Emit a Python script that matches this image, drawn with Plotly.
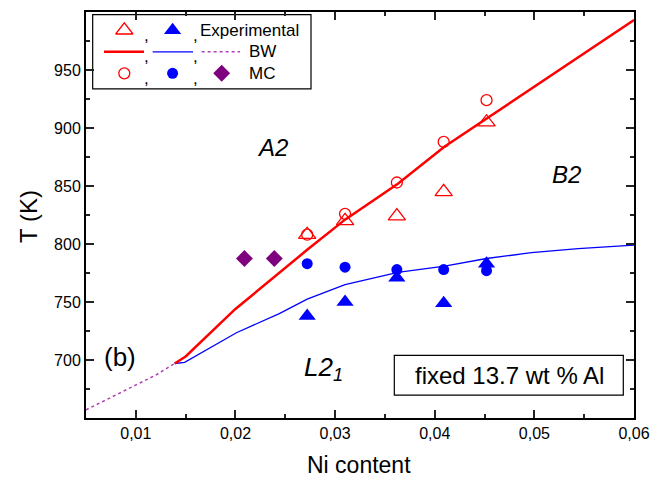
import plotly.graph_objects as go

# ---------------- data ----------------
ni_exp = [0.0272, 0.0310, 0.0362, 0.0409, 0.0452]
t_exp_a2b2 = [808, 820, 824, 845, 905]
t_exp_b2l21 = [738, 750, 771, 749, 783]

ni_mc = [0.0272, 0.0310, 0.0362, 0.0409, 0.0452]
t_mc_a2b2 = [808, 826, 853, 888, 924]
t_mc_b2l21 = [783, 780, 778, 778, 777]

ni_mc_a2l21 = [0.0209, 0.0239]
t_mc_a2l21 = [787.5, 787.5]

ni_bw_red = [0.0139, 0.0150, 0.0200, 0.0245, 0.0272, 0.0310, 0.0363, 0.0410, 0.0455, 0.0490, 0.0600]
t_bw_red = [697, 703, 744, 776, 795, 821, 852, 884, 910, 930, 993]

ni_bw_blue = [0.0139, 0.0149, 0.0201, 0.0244, 0.0272, 0.0310, 0.0363, 0.0410, 0.0452, 0.0497, 0.0544, 0.0600]
t_bw_blue = [697, 698, 723.5, 740, 752.5, 765, 775.5, 781, 787.5, 792.5, 796, 799]

ni_bw_purple = [0.0050, 0.0099, 0.0120, 0.0139]
t_bw_purple = [657, 678, 687, 697]

x_tickvals = [0.01, 0.02, 0.03, 0.04, 0.05, 0.06]
x_ticktext = ["0,01", "0,02", "0,03", "0,04", "0,05", "0,06"]
y_tickvals = [700, 750, 800, 850, 900, 950]

FONT = "Liberation Sans, Arial, sans-serif"
RED = "#ff0000"
BLUE = "#0000ff"
PURPLE = "#7f007f"
PURPLE_LINE = "#b040b0"

fig = go.Figure()

# BW lines
fig.add_trace(go.Scatter(x=ni_bw_purple, y=t_bw_purple, mode="lines",
                         line=dict(color=PURPLE_LINE, width=1.5, dash="dot")))
fig.add_trace(go.Scatter(x=ni_bw_blue, y=t_bw_blue, mode="lines",
                         line=dict(color=BLUE, width=1.3)))
fig.add_trace(go.Scatter(x=ni_bw_red, y=t_bw_red, mode="lines",
                         line=dict(color=RED, width=2.5)))

# MC points
fig.add_trace(go.Scatter(x=ni_mc_a2l21, y=t_mc_a2l21, mode="markers",
                         marker=dict(symbol="diamond", size=13, color=PURPLE)))
fig.add_trace(go.Scatter(x=ni_mc, y=t_mc_b2l21, mode="markers",
                         marker=dict(symbol="circle", size=11, color=BLUE)))
fig.add_trace(go.Scatter(x=ni_mc, y=t_mc_a2b2, mode="markers",
                         marker=dict(symbol="circle-open", size=11, color=RED, line=dict(width=1.3))))

# Experimental points
fig.add_trace(go.Scatter(x=ni_exp, y=t_exp_b2l21, mode="markers",
                         marker=dict(symbol="triangle-up", size=15, color=BLUE)))
fig.add_trace(go.Scatter(x=ni_exp, y=t_exp_a2b2, mode="markers",
                         marker=dict(symbol="triangle-up-open", size=15, color=RED, line=dict(width=1.3))))

# ---------------- custom legend (overlay axes in plot-area fractions) ----------------
row1, row2, row3 = 0.955, 0.902, 0.849
fig.add_trace(go.Scatter(x=[0.0699], y=[row1], mode="markers", xaxis="x2", yaxis="y2",
                         marker=dict(symbol="triangle-up-open", size=15, color=RED, line=dict(width=1.3))))
fig.add_trace(go.Scatter(x=[0.158], y=[row1], mode="markers", xaxis="x2", yaxis="y2",
                         marker=dict(symbol="triangle-up", size=15, color=BLUE)))
fig.add_trace(go.Scatter(x=[0.0328, 0.1058], y=[row2, row2], mode="lines", xaxis="x2", yaxis="y2",
                         line=dict(color=RED, width=2.5)))
fig.add_trace(go.Scatter(x=[0.1217, 0.1953], y=[row2, row2], mode="lines", xaxis="x2", yaxis="y2",
                         line=dict(color=BLUE, width=1.3)))
fig.add_trace(go.Scatter(x=[0.211, 0.281], y=[row2, row2], mode="lines", xaxis="x2", yaxis="y2",
                         line=dict(color=PURPLE_LINE, width=1.5, dash="dot")))
fig.add_trace(go.Scatter(x=[0.0699], y=[row3], mode="markers", xaxis="x2", yaxis="y2",
                         marker=dict(symbol="circle-open", size=11, color=RED, line=dict(width=1.3))))
fig.add_trace(go.Scatter(x=[0.158], y=[row3], mode="markers", xaxis="x2", yaxis="y2",
                         marker=dict(symbol="circle", size=11, color=BLUE)))
fig.add_trace(go.Scatter(x=[0.2476], y=[row3], mode="markers", xaxis="x2", yaxis="y2",
                         marker=dict(symbol="diamond", size=13, color=PURPLE)))

annotations = []
def txt(x, y, s, size=17, xanchor="center", yanchor="middle", angle=0):
    annotations.append(dict(x=x, y=y, xref="paper", yref="paper", text=s, showarrow=False,
                            xanchor=xanchor, yanchor=yanchor, textangle=angle,
                            font=dict(family=FONT, size=size, color="black")))

# legend texts
for cx in (0.111, 0.199):
    for r in (row1, row2, row3):
        txt(cx, r - 0.012, ",", 17)
txt(0.205, row1, "Experimental", 17, xanchor="left")
txt(0.293, row2, "BW", 17, xanchor="left")
txt(0.293, row3, "MC", 17, xanchor="left")

# region labels
txt(0.341, 0.667, "<i>A2</i>", 24)
txt(0.876, 0.600, "<i>B2</i>", 24)
txt(0.434, 0.121, "<i>L2<sub>1</sub></i>", 26)
txt(0.062, 0.150, "(b)", 26)
txt(0.772, 0.105, "fixed 13.7 wt % Al", 24)

# axis titles
txt(0.498, -0.1150, "Ni content", 23)
txt(-0.106, 0.4975, "T (K)", 24, angle=-90)

shapes = [
    dict(type="rect", xref="paper", yref="paper", x0=0.0122, x1=0.4106, y0=0.8105, y1=0.9934,
         line=dict(color="black", width=1.2), fillcolor="rgba(0,0,0,0)", layer="below"),
    dict(type="rect", xref="paper", yref="paper", x0=0.5626, x1=0.9805, y0=0.0564, y1=0.1544,
         line=dict(color="black", width=1.2), fillcolor="white"),
]

axis_common = dict(showgrid=False, zeroline=False, showline=True, linecolor="black", linewidth=2,
                   mirror="ticks", ticks="inside", ticklen=8, tickwidth=1.5, tickcolor="#222",
                   tickfont=dict(family=FONT, size=16, color="black"))

fig.update_layout(
    width=667, height=479,
    margin=dict(l=86, r=33, t=10, b=61),
    paper_bgcolor="white", plot_bgcolor="white",
    showlegend=False,
    xaxis=dict(range=[0.005, 0.06], tickvals=x_tickvals, ticktext=x_ticktext,
               minor=dict(dtick=0.005, ticks="inside", ticklen=4, tickwidth=1.5, tickcolor="#222"),
               **axis_common),
    yaxis=dict(range=[650, 1000], tickvals=y_tickvals,
               minor=dict(dtick=25, ticks="inside", ticklen=4, tickwidth=1.5, tickcolor="#222"),
               **axis_common),
    xaxis2=dict(range=[0, 1], overlaying="x", visible=False, fixedrange=True),
    yaxis2=dict(range=[0, 1], overlaying="y", visible=False, fixedrange=True),
    annotations=annotations,
    shapes=shapes,
)

fig.write_html("out.html")
